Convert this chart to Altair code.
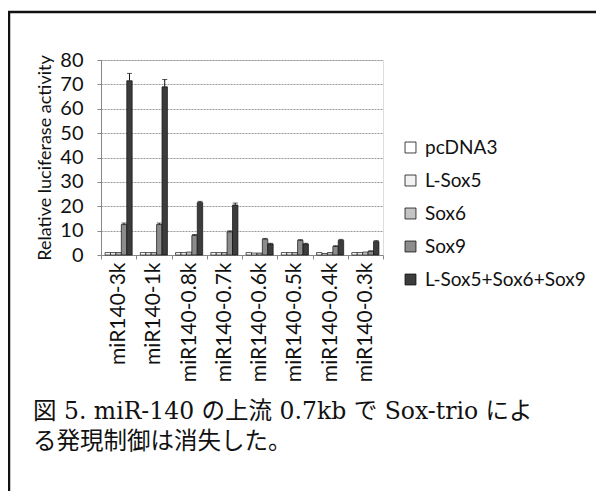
import altair as alt
import pandas as pd

categories = ["miR140-3k", "miR140-1k", "miR140-0.8k", "miR140-0.7k",
              "miR140-0.6k", "miR140-0.5k", "miR140-0.4k", "miR140-0.3k"]
series = ["pcDNA3", "L-Sox5", "Sox6", "Sox9", "L-Sox5+Sox6+Sox9"]
colors = ["#ffffff", "#f2f2f2", "#c4c4c4", "#8c8c8c", "#3c3c3c"]
y_ticks = [0, 10, 20, 30, 40, 50, 60, 70, 80]

pcDNA3 = [1.0, 1.0, 1.0, 1.0, 1.0, 1.0, 1.0, 1.0]
lsox5 = [1.0, 1.0, 1.0, 1.0, 0.8, 1.0, 0.6, 1.0]
sox6 = [1.0, 1.0, 1.2, 1.0, 0.8, 1.0, 1.0, 1.2]
sox9 = [12.5, 12.5, 8.0, 9.5, 6.5, 6.0, 3.5, 1.5]
trio = [71.5, 69.0, 21.5, 20.5, 4.5, 4.5, 6.0, 5.5]
trio_err = [3.0, 3.0, 0.5, 0.8, 0.3, 0.3, 0.4, 0.4]
sox9_err = [0.6, 0.6, 0.4, 0.4, 0.3, 0.3, 0.3, 0.2]

caption = ["図 5. miR-140 の上流 0.7kb で Sox-trio によ",
           "る発現制御は消失した。"]

rows = []
vals = [pcDNA3, lsox5, sox6, sox9, trio]
errs = [None, None, None, sox9_err, trio_err]
for si, s in enumerate(series):
    for ci, c in enumerate(categories):
        v = vals[si][ci]
        e = errs[si][ci] if errs[si] is not None else 0.0
        rows.append({"cat": c, "series": s, "value": v, "top": v + e, "err": e})
df = pd.DataFrame(rows)
df_err = df[df["err"] > 0]

FONT = "Lato"
CAP_FONT = "DejaVu Serif, Noto Sans CJK JP"
W, H = 282, 195

x_axis = alt.Axis(labelAngle=-90, labelFontSize=21, labelFont=FONT,
                  labelColor="#111", labelPadding=3, tickBand="extent",
                  tickSize=4, tickColor="#888", domainColor="#888",
                  grid=False, labelOverlap=False)
y_axis = alt.Axis(values=y_ticks, tickCount=9, labelFontSize=20,
                  labelOverlap=False,
                  labelFont=FONT, labelColor="#111", labelPadding=14,
                  tickSize=4, tickColor="#888", domainColor="#888",
                  gridColor="#999", gridDash=[2, 1], gridWidth=1,
                  titleFont=FONT, titleFontSize=18, titleFontWeight="normal",
                  titleColor="#111", titlePadding=5)
y_scale = alt.Scale(domain=[0, 80], nice=False)
x_scale = alt.Scale(paddingInner=0, paddingOuter=0)
xo_scale = alt.Scale(domain=series, paddingInner=0, paddingOuter=0.75)
Y_TITLE = "Relative luciferase activity"

def xenc():
    return alt.X("cat:N", sort=categories, title=None, scale=x_scale, axis=x_axis)

def xoenc():
    return alt.XOffset("series:N", sort=series, scale=xo_scale)

bars = alt.Chart(df).mark_bar(stroke="#111", strokeWidth=0.7).encode(
    x=xenc(),
    xOffset=xoenc(),
    y=alt.Y("value:Q", title=Y_TITLE, scale=y_scale, axis=y_axis),
    color=alt.Color("series:N", sort=series,
                    scale=alt.Scale(domain=series, range=colors),
                    legend=alt.Legend(title=None, orient="none", legendX=300, legendY=78,
                                      symbolType="square", symbolSize=120,
                                      symbolStrokeColor="#111", symbolStrokeWidth=0.8,
                                      labelFont=FONT, labelFontSize=19, labelColor="#111",
                                      labelLimit=400, rowPadding=13, labelOffset=5)),
)

err_rule = alt.Chart(df_err).mark_rule(color="#111", strokeWidth=1).encode(
    x=xenc(), xOffset=xoenc(),
    y=alt.Y("value:Q", title=Y_TITLE, scale=y_scale, axis=y_axis),
    y2="top:Q")
err_cap = alt.Chart(df_err).mark_tick(color="#111", thickness=1, size=5).encode(
    x=xenc(), xOffset=xoenc(),
    y=alt.Y("top:Q", title=Y_TITLE, scale=y_scale, axis=y_axis))

frame = alt.Chart(pd.DataFrame({"a": [0]})).mark_rect(
    fill=None, stroke="#111", strokeWidth=2.5).encode(
    x=alt.value(-92), x2=alt.value(510), y=alt.value(-48), y2=alt.value(450))

cap1 = alt.Chart(pd.DataFrame({"t": [caption[0]]})).mark_text(
    align="left", baseline="middle", font=CAP_FONT, fontSize=23.5,
    color="#111").encode(text="t:N", x=alt.value(-68), y=alt.value(352))
cap2 = alt.Chart(pd.DataFrame({"t": [caption[1]]})).mark_text(
    align="left", baseline="middle", font=CAP_FONT, fontSize=23.5,
    color="#111").encode(text="t:N", x=alt.value(-68), y=alt.value(382))

chart = alt.layer(bars, err_rule, err_cap, frame, cap1, cap2).properties(
    width=W, height=H,
    autosize=alt.AutoSizeParams(type="none"),
    padding={"left": 93, "top": 52, "right": 588 - 93 - W, "bottom": 483 - 52 - H},
).configure_view(stroke=None).configure(background="white")

chart.save("out.html", embed_options={"renderer": "svg", "actions": False})
